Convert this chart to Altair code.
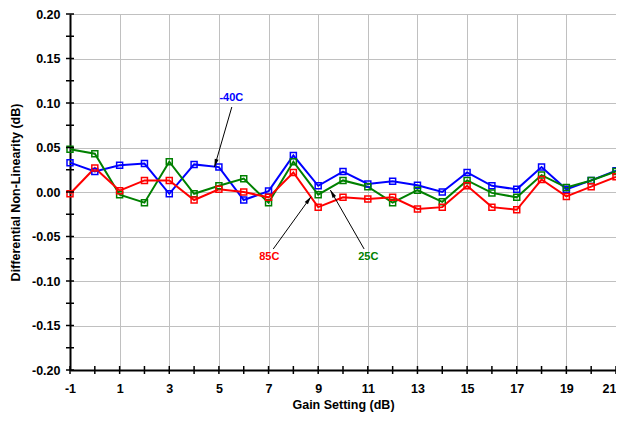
import math
import altair as alt
import pandas as pd

# ---- data ----
gain = [-1, 0, 1, 2, 3, 4, 5, 6, 7, 8, 9, 10, 11, 12, 13, 14, 15, 16, 17, 18, 19, 20, 21]
dnl_m40 = [0.033, 0.023, 0.030, 0.032, -0.002, 0.031, 0.028, -0.009, 0.001, 0.041, 0.007, 0.023,
           0.009, 0.012, 0.0075, 0.000, 0.022, 0.007, 0.003, 0.028, 0.003, 0.013, 0.024]
dnl_25 = [0.048, 0.043, -0.003, -0.012, 0.034, -0.002, 0.007, 0.015, -0.012, 0.034, -0.003, 0.013,
          0.006, -0.012, 0.002, -0.011, 0.013, -0.001, -0.006, 0.019, 0.005, 0.013, 0.023]
dnl_85 = [-0.002, 0.027, 0.0015, 0.013, 0.013, -0.009, 0.003, 0.000, -0.006, 0.022, -0.017, -0.006,
          -0.008, -0.006, -0.019, -0.017, 0.007, -0.017, -0.020, 0.014, -0.005, 0.006, 0.017]

series_names = ["-40C", "25C", "85C"]
series_colors = ["#0000FF", "#008000", "#FF0000"]

x_grid_values = [-1, 0, 1, 2, 3, 4, 5, 6, 7, 8, 9, 10, 11, 12, 13, 14, 15, 16, 17, 18, 19, 20, 21]
y_label_values = [-0.20, -0.15, -0.10, -0.05, 0.0, 0.05, 0.10, 0.15, 0.20]
y_tick_values = [-0.2, -0.175, -0.15, -0.125, -0.1, -0.075, -0.05, -0.025, 0.0,
                 0.025, 0.05, 0.075, 0.1, 0.125, 0.15, 0.175, 0.2]

# annotations
ann_label = ["-40C", "85C", "25C"]
ann_color = ["#0000FF", "#FF0000", "#008000"]
ann_text_x = [5.50, 7.03, 11.02]
ann_text_y = [0.1056, -0.073, -0.073]
arr_x0 = [5.52, 7.19, 10.85]
arr_y0 = [0.0955, -0.064, -0.064]
arr_x1 = [4.82, 8.71, 9.49]
arr_y1 = [0.0281, -0.0053, 0.0022]

W, H = 546, 356
XMIN, XMAX = -1, 21
YMIN, YMAX = -0.2, 0.2
PXX = W / (XMAX - XMIN)
PXY = H / (YMAX - YMIN)

FONT = "Liberation Sans"
FS = 12.5

# ---- tables ----
rows = []
for name, vals in zip(series_names, [dnl_m40, dnl_25, dnl_85]):
    for g, v in zip(gain, vals):
        rows.append({"gain": g, "dnl": v, "series": name})
df = pd.DataFrame(rows)

arrows = []
for lab, x0, y0, x1, y1 in zip(ann_label, arr_x0, arr_y0, arr_x1, arr_y1):
    dx = (x1 - x0) * PXX
    dy = -(y1 - y0) * PXY
    ang = math.degrees(math.atan2(dx, -dy)) % 360
    n = math.hypot(dx, dy)
    ux, uy = dx / n, dy / n
    back = 4.0
    hx = x1 - back * ux / PXX
    hy = y1 + back * uy / PXY
    arrows.append({"label": lab, "x0": x0, "y0": y0, "x1": x1, "y1": y1,
                   "hx": hx, "hy": hy, "angle": ang})
adf = pd.DataFrame(arrows)
tdf = pd.DataFrame({"label": ann_label, "color": ann_color, "x": ann_text_x, "y": ann_text_y})

xscale = alt.Scale(domain=[XMIN, XMAX], nice=False, zero=False)
yscale = alt.Scale(domain=[YMIN, YMAX], nice=False, zero=False)

x_axis = alt.Axis(
    values=x_grid_values,
    labelExpr="datum.value % 2 != 0 ? (datum.value < 0 ? '-' : '') + format(abs(datum.value), 'd') : ''",
    labelAlign={"condition": {"test": "datum.value == 21", "value": "right"}, "value": "center"},
    ticks=False, labelPadding=12, grid=True, gridColor="#C0C0C0", gridWidth=1,
    domain=True, domainColor="black", domainWidth=2,
    labelFont=FONT, labelFontWeight="bold", labelFontSize=FS, labelColor="black",
    title="Gain Setting (dB)", titleFont=FONT, titleFontWeight="bold", titleFontSize=FS,
    titleColor="black", titlePadding=4, labelFlush=False,
)
y_axis = alt.Axis(
    values=y_label_values,
    labelExpr="(datum.value < -0.0001 ? '-' : '') + format(abs(datum.value), '.2f')",
    ticks=False, labelPadding=10, grid=True, gridColor="#C0C0C0", gridWidth=1,
    domain=True, domainColor="black", domainWidth=2,
    labelFont=FONT, labelFontWeight="bold", labelFontSize=FS, labelColor="black",
    title="Differential Non-Linearity (dB)", titleFont=FONT, titleFontWeight="bold",
    titleFontSize=FS, titleColor="black", titlePadding=9, labelFlush=False,
)

lines = alt.Chart(df).mark_line(
    strokeWidth=2,
    point=alt.OverlayMarkDef(shape="square", filled=False, size=36, strokeWidth=1.5),
).encode(
    x=alt.X("gain:Q", scale=xscale, axis=x_axis),
    y=alt.Y("dnl:Q", scale=yscale, axis=y_axis),
    color=alt.Color("series:N", scale=alt.Scale(domain=series_names, range=series_colors), legend=None),
    order=alt.Order("gain:Q"),
)

ytick_df = pd.DataFrame({"v": y_tick_values})
yticks = alt.Chart(ytick_df).mark_rule(color="black", strokeWidth=1.5).encode(
    y=alt.Y("v:Q", scale=yscale), x=alt.value(-4), x2=alt.value(4)
)
xtick_df = pd.DataFrame({"v": x_grid_values})
xticks = alt.Chart(xtick_df).mark_rule(color="black", strokeWidth=1.5).encode(
    x=alt.X("v:Q", scale=xscale), y=alt.value(H - 4), y2=alt.value(H + 4)
)

arrow_lines = alt.Chart(adf).mark_rule(color="black", strokeWidth=1).encode(
    x=alt.X("x0:Q", scale=xscale), y=alt.Y("y0:Q", scale=yscale),
    x2="x1:Q", y2="y1:Q",
)
arrow_heads = alt.Chart(adf).mark_point(
    shape="M0,-1L-0.5,1L0.5,1Z", filled=True, color="black", size=64, opacity=1
).encode(
    x=alt.X("hx:Q", scale=xscale), y=alt.Y("hy:Q", scale=yscale),
    angle=alt.Angle("angle:Q", scale=None),
)
texts = alt.Chart(tdf).mark_text(
    font=FONT, fontWeight="bold", fontSize=11, align="center", baseline="middle"
).encode(
    x=alt.X("x:Q", scale=xscale), y=alt.Y("y:Q", scale=yscale),
    text="label:N", color=alt.Color("color:N", scale=None),
)

chart = alt.layer(lines, yticks, xticks, arrow_lines, arrow_heads, texts).properties(
    width=W, height=H,
    autosize=alt.AutoSizeParams(type="none"),
    padding={"left": 62, "top": 6, "right": 0, "bottom": 43},
).configure_view(stroke="#A8A8A8", strokeWidth=1).configure(background="white")

chart.save("out.html", embed_options={"renderer": "svg", "actions": False})
